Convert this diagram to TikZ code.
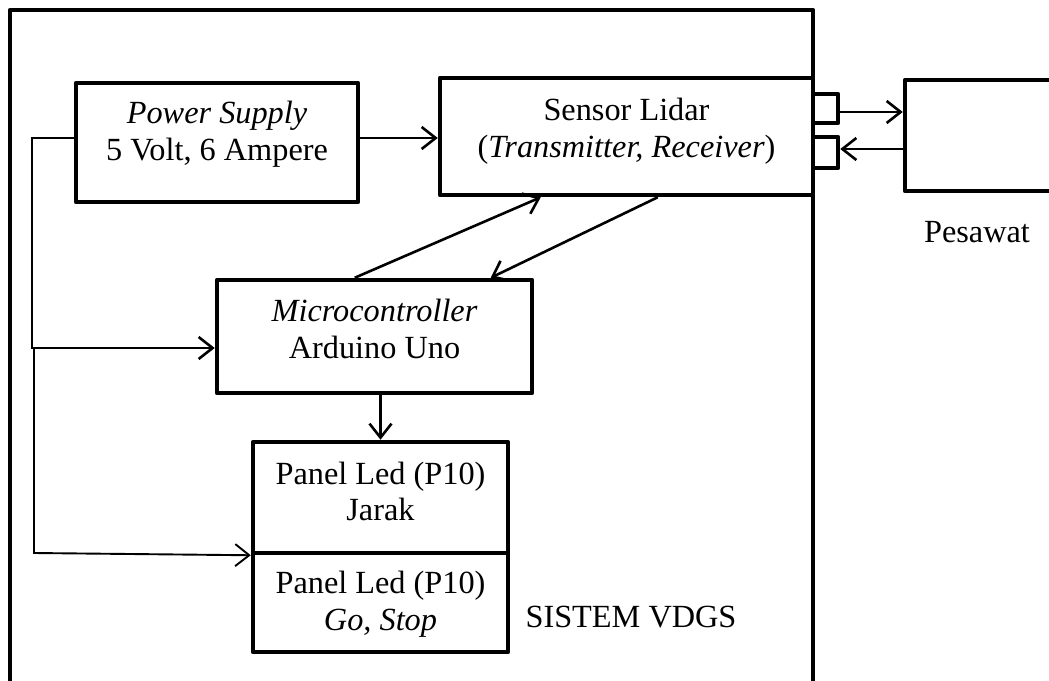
\documentclass[tikz,border=0pt]{standalone}
\usepackage{fontspec}
\setmainfont{Liberation Serif}
\usetikzlibrary{arrows.meta,calc}
\begin{document}
\begin{tikzpicture}[x=1pt,y=-1pt,
  blk/.style={draw,line width=4.5pt,line join=round,inner sep=0pt},
  conn/.style={line width=2.6pt,line join=miter},
  thinconn/.style={line width=1.9pt},
  arr/.style={-{Straight Barb[length=14pt,width=22pt]}},
  txt/.style={anchor=base,inner sep=0pt,font=\fontsize{32.3}{37}\selectfont}]
\useasboundingbox (0,0) rectangle (1049,680);
% outer system box
\draw[line width=4.5pt,line join=round] (10,700) -- (10,10) -- (813,10) -- (813,700);
% blocks
\node[blk,minimum width=282pt,minimum height=119pt] (ps) at (217,142.5) {};
\node[blk,minimum width=373pt,minimum height=117pt] (sensor) at (626.5,136.5) {};
\node[blk,minimum width=315pt,minimum height=113pt] (mcu) at (374.5,336.5) {};
\node[blk,minimum width=255pt,minimum height=111pt] (panelA) at (380.5,497.5) {};
\node[blk,minimum width=255pt,minimum height=99pt] (panelB) at (380.5,602.5) {};
\node[blk,minimum width=165pt,minimum height=111pt] (pesawat) at (987.5,135.5) {};
\node[blk,minimum width=25pt,minimum height=29pt] (port1) at (825.5,108.5) {};
\node[blk,minimum width=25pt,minimum height=31pt] (port2) at (825.5,152.5) {};
% texts
\node[txt] (t1) at (217,123) {\itshape Power Supply};
\node[txt] (t2) at (217,160) {5 Volt, 6 Ampere};
\node[txt] (t3) at (626.5,120) {Sensor Lidar};
\node[txt] (t4) at (626.5,157) {(\textit{Transmitter, Receiver})};
\node[txt] (t5) at (374.5,321) {\itshape Microcontroller};
\node[txt] (t6) at (374.5,358) {Arduino Uno};
\node[txt] (t7) at (380.5,484) {Panel Led (P10)};
\node[txt] (t8) at (380.5,520) {Jarak};
\node[txt] (t9) at (380.5,593) {Panel Led (P10)};
\node[txt] (t10) at (380.5,630) {\itshape Go, Stop};
\node[txt] (t11) at (631,627) {SISTEM VDGS};
\node[txt] (t12) at (977,242) {Pesawat};
% helper coordinates
\coordinate (psL) at (76,138);
\coordinate (b1) at (32,138);
\coordinate (b2) at (32,348);
\coordinate (b3) at (34,348);
\coordinate (b4) at (34,553);
\coordinate (o1) at (0,112);
\coordinate (o2) at (0,149);
% connectors
\draw[conn,arr] (ps.west |- psL) -- (b1) -- (b2) -- (mcu.west |- b2);
\draw[thinconn,arr] (b3) -- (b4) -- (panelA.south west);
\draw[conn,arr] (ps.east |- psL) -- (sensor.west |- psL);
\draw[conn,arr] ($(mcu.north west)+(140,0)$) -- ($(sensor.south west)+(103,0)$);
\draw[conn,arr] ($(sensor.south west)+(220,0)$) -- ($(mcu.north west)+(276,0)$);
\draw[conn,arr] (panelA.north |- mcu.south) -- (panelA.north);
\draw[conn,arr] (port1.east |- o1) -- (pesawat.west |- o1);
\draw[conn,arr] (pesawat.west |- o2) -- (port2.east |- o2);
\end{tikzpicture}
\end{document}
